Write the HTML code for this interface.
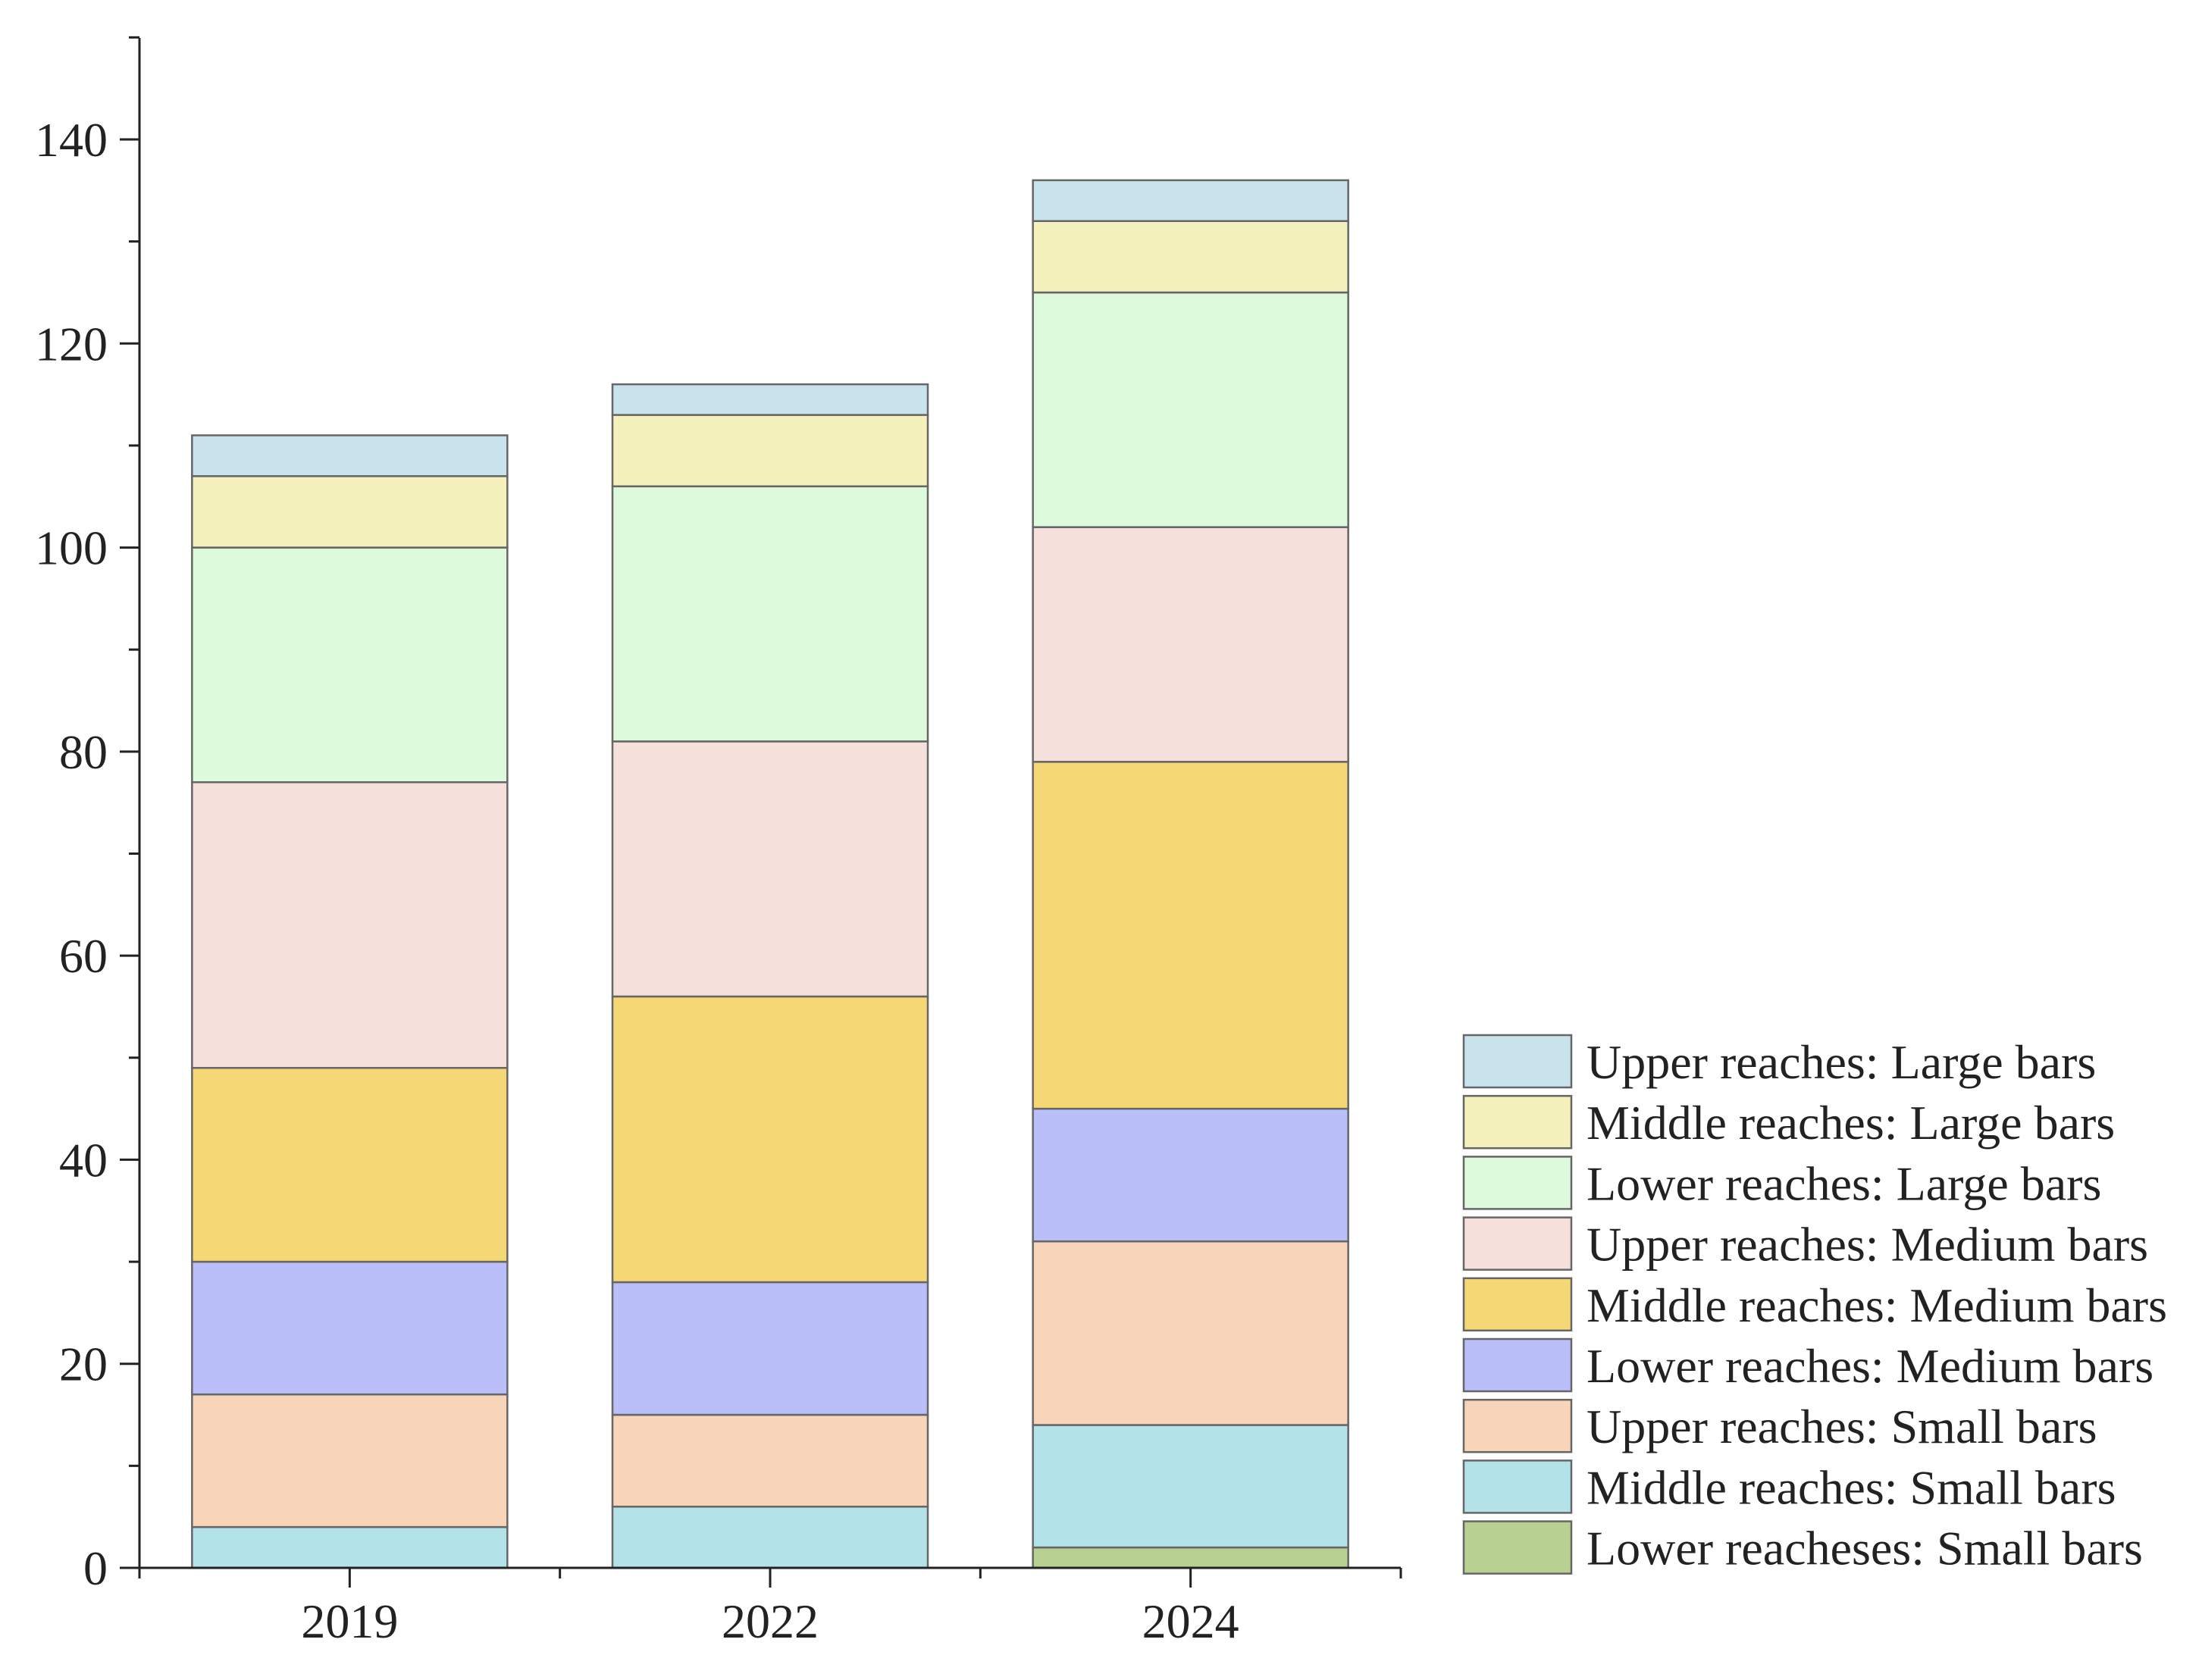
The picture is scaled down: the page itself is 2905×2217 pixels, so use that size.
<!DOCTYPE html>
<html><head><meta charset="utf-8"><style>
body{margin:0;background:#fff}
svg text{font-family:"Liberation Serif",serif;fill:#222}
</style></head><body>
<svg id="chart" width="2905" height="2212" viewBox="0 0 2905 2212" xmlns="http://www.w3.org/2000/svg"></svg>
<script>
const categories = ["2019","2022","2024"];
const seriesNames = ["Lower reacheses: Small bars","Middle reaches: Small bars","Upper reaches: Small bars","Lower reaches: Medium bars","Middle reaches: Medium bars","Upper reaches: Medium bars","Lower reaches: Large bars","Middle reaches: Large bars","Upper reaches: Large bars"];
const lowerSmall = [0,0,2];
const middleSmall = [4,6,12];
const upperSmall = [13,9,18];
const lowerMedium = [13,13,13];
const middleMedium = [19,28,34];
const upperMedium = [28,25,23];
const lowerLarge = [23,25,23];
const middleLarge = [7,7,7];
const upperLarge = [4,3,4];
const yTicks = [0,20,40,60,80,100,120,140];
const seriesValues = [lowerSmall,middleSmall,upperSmall,lowerMedium,middleMedium,upperMedium,lowerLarge,middleLarge,upperLarge];
const colors = ["#b9d093","#b3e3e9","#f8d5b9","#babffa","#f5d776","#f6e0dc","#ddfadc","#f5f1bc","#c9e3ec"];

const svg = document.getElementById('chart');
const NS = "http://www.w3.org/2000/svg";
const X0=184, X1=1848, Y0=2069, YTOP=50;
const yPer = (Y0-184)/140;
const y = v => Y0 - v*yPer;
const band = (X1-X0)/categories.length;
const barW = 416;
const xc = i => X0 + band*(i+0.5);
function mk(tag, attrs){const e=document.createElementNS(NS,tag);for(const k in attrs)e.setAttribute(k,attrs[k]);svg.appendChild(e);return e;}

categories.forEach((c,i)=>{
  let cum=0;
  seriesValues.forEach((s,j)=>{
    const v=s[i];
    if(v>0){
      const r=mk('rect',{x:xc(i)-barW/2,y:y(cum+v),width:barW,height:v*yPer,fill:colors[j],stroke:'#666','stroke-width':2.5});
      
      
    }
    cum+=v;
  });
});
const ya=mk('line',{x1:X0,y1:YTOP,x2:X0,y2:Y0,stroke:'#222','stroke-width':3});


const xa=mk('line',{x1:X0,y1:Y0,x2:X1,y2:Y0,stroke:'#222','stroke-width':3});


for(let v=0;v<=150;v+=10){
  const major = v%20===0;
  mk('line',{x1:X0-(major?26:14),y1:y(v),x2:X0,y2:y(v),stroke:'#222','stroke-width':3});
}
yTicks.forEach(v=>{
  const t=mk('text',{x:X0-42,y:y(v)+22,'text-anchor':'end','font-size':64});
  t.textContent=v;
  
  
});
for(let i=0;i<=categories.length;i++){
  mk('line',{x1:X0+band*i,y1:Y0,x2:X0+band*i,y2:Y0+14,stroke:'#222','stroke-width':3});
}
categories.forEach((c,i)=>{
  mk('line',{x1:xc(i),y1:Y0,x2:xc(i),y2:Y0+26,stroke:'#222','stroke-width':3});
  const t=mk('text',{x:xc(i),y:Y0+92,'text-anchor':'middle','font-size':64});
  t.textContent=c;
  
  
});
for(let k=0;k<seriesNames.length;k++){
  const j=seriesNames.length-1-k;
  const ty=1366+k*80.2;
  const r=mk('rect',{x:1931,y:ty,width:142,height:69,fill:colors[j],stroke:'#666','stroke-width':2.5});
  
  
  const t=mk('text',{x:2093,y:ty+57,'font-size':64});
  t.textContent=seriesNames[j];
  
  
}
</script>
</body></html>
